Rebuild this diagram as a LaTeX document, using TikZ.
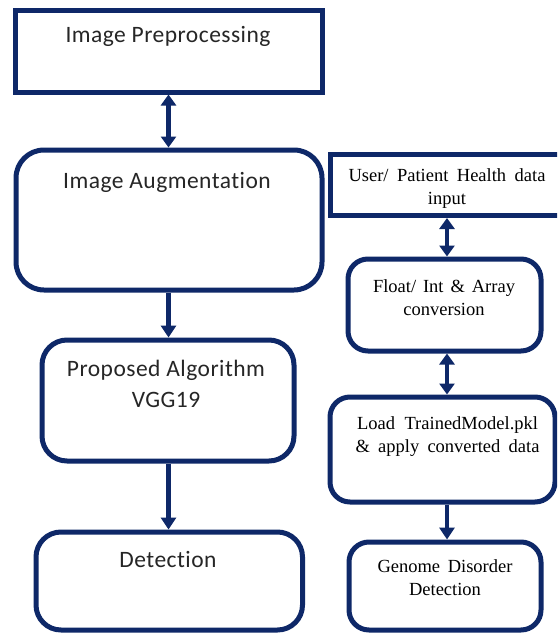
\documentclass[tikz,border=0pt]{standalone}
\usepackage{fontspec}
\usetikzlibrary{arrows.meta}
\newfontfamily\leftfont[Ligatures=NoCommon,LetterSpace=2]{Carlito}
\newfontfamily\rightfont{Liberation Serif}
\definecolor{navy}{RGB}{14,40,104}
\tikzset{
  sqbox/.style={draw=navy, line width=5pt, fill=white, inner sep=0pt, outer sep=auto},
  rdbox/.style={sqbox, rounded corners=#1},
  ltext/.style={anchor=base, inner sep=0pt, align=center, text=black!85,
    font=\leftfont\fontsize{23.5}{31}\selectfont},
  rtext/.style={anchor=base, inner sep=0pt, align=center, text=black,
    font=\rightfont\fontsize{18.5}{23}\selectfont},
  conn/.style={draw=navy, line width=4.5pt, -{Triangle[width=15pt,length=12pt]}},
  dconn/.style={draw=navy, line width=4.5pt, {Triangle[width=15pt,length=11pt]}-{Triangle[width=15pt,length=11pt]}}
}
\begin{document}
\begin{tikzpicture}[x=1pt,y=-1pt]
\useasboundingbox (0,0) rectangle (557,634);
\clip (0,0) rectangle (557,634);
\fill[white] (0,0) rectangle (557,634);
% left column
\node[sqbox, minimum width=307pt, minimum height=81.5pt] (pre) at (169,51.25) {};
\node[rdbox=28pt, minimum width=306pt, minimum height=140pt] (aug) at (169,220) {};
\node[rdbox=25pt, minimum width=252pt, minimum height=121pt] (prop) at (168,400.5) {};
\node[rdbox=25pt, minimum width=266.5pt, minimum height=98pt] (det) at (169.25,581) {};
% right column
\node[sqbox, minimum width=235pt, minimum height=61.5pt] (user) at (447.5,184.75) {};
\node[rdbox=20pt, minimum width=193pt, minimum height=92pt] (float) at (444.5,305) {};
\node[rdbox=20pt, minimum width=225pt, minimum height=105pt] (load) at (442.5,449.5) {};
\node[rdbox=20pt, minimum width=192pt, minimum height=88pt] (gen) at (445,586) {};
% texts
\node[ltext] (tpre) at (168,42) {Image Preprocessing};
\node[ltext] (taug) at (167,188) {Image Augmentation};
\node[ltext] (tprop) at (166,407) {Proposed Algorithm\\VGG19};
\node[ltext] (tdet) at (168,567) {Detection};
\node[rtext] (tuser) at (447,204) {\makebox[197pt][s]{User/ Patient Health data}\\input};
\node[rtext] (tfloat) at (444,315) {\makebox[142pt][s]{Float/ Int \& Array}\\conversion};
\node[rtext] (tload) at (447.5,452) {\makebox[181pt][s]{Load TrainedModel.pkl}\\\makebox[184pt][s]{\& apply converted data}};
\node[rtext] (tgen) at (445,595) {\makebox[135pt][s]{Genome Disorder}\\Detection};
% connectors
\coordinate (lx) at (168.5,0);
\coordinate (rx) at (447,0);
\draw[dconn] (pre.south -| lx) -- (aug.north -| lx);
\draw[conn] (aug.south -| lx) -- (prop.north -| lx);
\draw[conn] (prop.south -| lx) -- (det.north -| lx);
\draw[dconn] (user.south -| rx) -- (float.north -| rx);
\draw[dconn] (float.south -| rx) -- (load.north -| rx);
\draw[conn] (load.south -| rx) -- (gen.north -| rx);
\end{tikzpicture}
\end{document}
